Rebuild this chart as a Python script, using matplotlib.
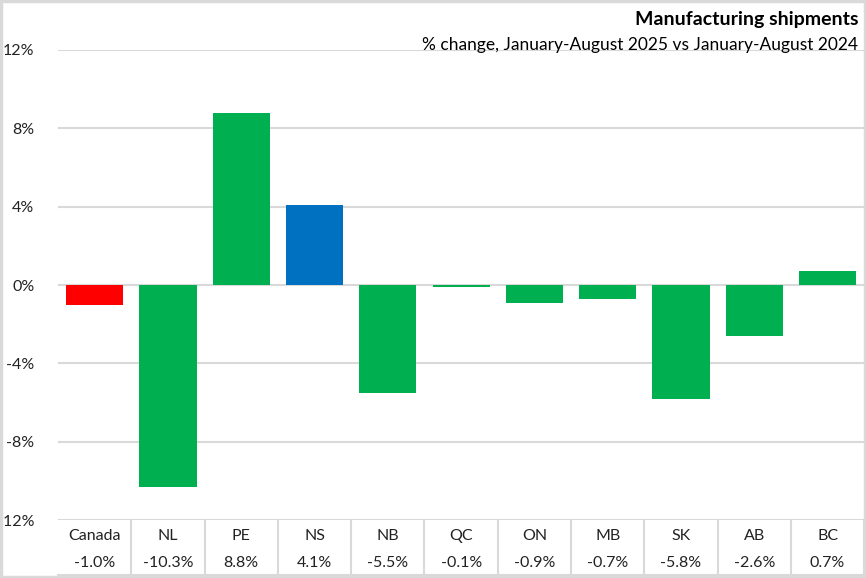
import matplotlib.pyplot as plt
from matplotlib.patches import Rectangle
from matplotlib.ticker import FuncFormatter

plt.rcParams['font.family'] = ['Lato', 'DejaVu Sans']

regions = ['Canada', 'NL', 'PE', 'NS', 'NB', 'QC', 'ON', 'MB', 'SK', 'AB', 'BC']
change = [-1.0, -10.3, 8.8, 4.1, -5.5, -0.1, -0.9, -0.7, -5.8, -2.6, 0.7]
colors = ['#FF0000', '#00B050', '#00B050', '#0070C0', '#00B050', '#00B050',
          '#00B050', '#00B050', '#00B050', '#00B050', '#00B050']

fig = plt.figure(figsize=(8.66, 5.78), dpi=100)
ax = fig.add_axes([0.067, 0.1003, 0.931, 0.8132])

x = list(range(len(regions)))
ax.bar(x, change, width=0.78, color=colors, zorder=3)

ax.set_xlim(-0.5, len(regions) - 0.5)
ax.set_ylim(-12, 12)
ax.set_yticks([-12, -8, -4, 0, 4, 8, 12])
ax.yaxis.set_major_formatter(FuncFormatter(lambda v, p: f'{v:.0f}%'))
ax.tick_params(axis='y', length=0, pad=17, labelsize=11.5, labelcolor='#222222')
ax.set_xticks([])
ax.grid(axis='y', color='#D9D9D9', lw=1.5, zorder=0)
for s in ax.spines.values():
    s.set_visible(False)

# table under the plot: names and values
line_kw = dict(color='#D9D9D9', lw=1.5, clip_on=False, transform=ax.get_xaxis_transform())
bottom = -0.118
for i in range(1, len(regions) + 1):
    ax.plot([i - 0.5, i - 0.5], [0, bottom], **line_kw)
ax.plot([-0.5, len(regions) - 0.5], [bottom, bottom], **line_kw)
for i, (r, v) in enumerate(zip(regions, change)):
    ax.text(i, -0.033, r, ha='center', va='center', fontsize=11.5, color='#222222',
            transform=ax.get_xaxis_transform())
    ax.text(i, -0.092, f'{v:.1f}%', ha='center', va='center', fontsize=11.5, color='#222222',
            transform=ax.get_xaxis_transform())

fig.text(0.991, 0.966, 'Manufacturing shipments', ha='right', va='center',
         fontsize=14, fontweight='bold', color='black')
fig.text(0.991, 0.923, '% change, January-August 2025 vs January-August 2024', ha='right',
         va='center', fontsize=12.5, color='black')

fig.patches.append(Rectangle((0.0015, 0.002), 0.997, 0.996, transform=fig.transFigure,
                             fill=False, edgecolor='#D9D9D9', lw=2.5))

fig.savefig('out.png', dpi=100)
